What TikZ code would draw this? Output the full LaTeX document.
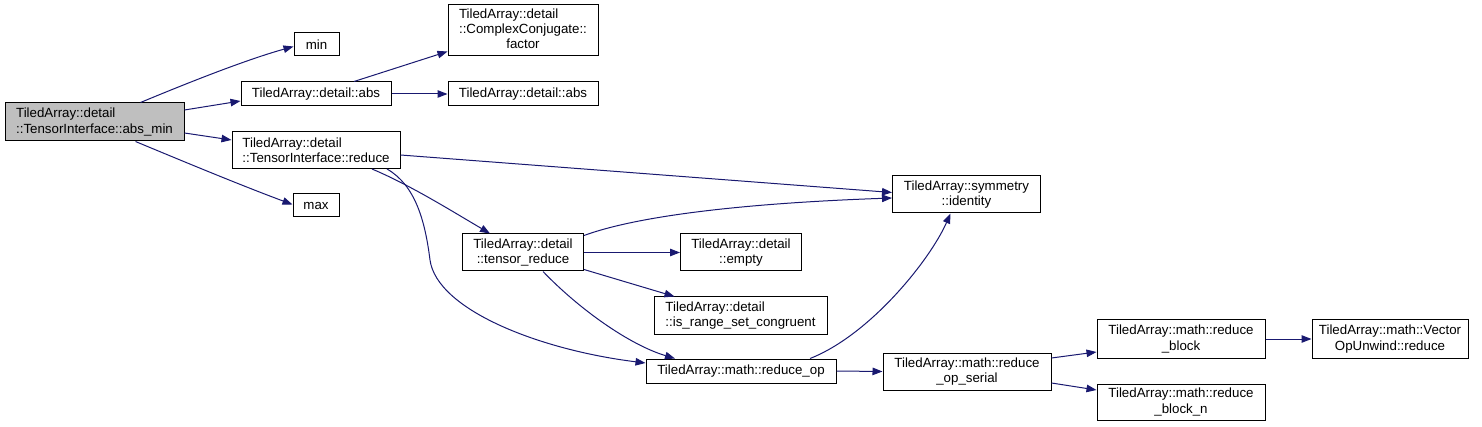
\documentclass[tikz,border=0pt]{standalone}
\usepackage{fontspec}
\setmainfont{Liberation Sans}
\usetikzlibrary{arrows.meta,calc}
\definecolor{edgeblue}{HTML}{191970}
\definecolor{graybox}{HTML}{BFBFBF}
\tikzset{
  box/.style={draw=black, line width=1pt, fill=white, inner sep=0pt, align=center,
    font=\fontsize{13.3}{15.2}\selectfont},
  edge/.style={draw=edgeblue, line width=1pt, -{Triangle[length=10pt,width=7.5pt]}, fill=none},
}
\begin{document}
\begin{tikzpicture}[x=1pt,y=-1pt]
\useasboundingbox (0,0) rectangle (1482,427);
\node[box, align=left, fill=graybox, minimum width=179pt, minimum height=38pt] (absmin) at (94.5,122) {TiledArray::detail\\::TensorInterface::abs\_min};
\node[box, minimum width=45pt, minimum height=23pt] (min) at (316.5,44.5) {min};
\node[box, minimum width=150pt, minimum height=24pt] (dabs) at (316,94) {TiledArray::detail::abs};
\node[box, minimum width=150pt, minimum height=51pt] (ccf) at (523,30.5) {\begin{tabular}{@{}l@{}}TiledArray::detail\\::ComplexConjugate::\\\multicolumn{1}{@{}c@{}}{factor}\end{tabular}};
\node[box, minimum width=150pt, minimum height=24pt] (dabs2) at (523,94) {TiledArray::detail::abs};
\node[box, align=left, minimum width=168pt, minimum height=37pt] (tired) at (316,150) {TiledArray::detail\\::TensorInterface::reduce};
\node[box, minimum width=46pt, minimum height=23pt] (max) at (316,205.5) {max};
\node[box, minimum width=148pt, minimum height=37pt] (symid) at (966.5,194.5) {TiledArray::symmetry\\::identity};
\node[box, minimum width=121pt, minimum height=37pt] (tensred) at (523,252.5) {TiledArray::detail\\::tensor\_reduce};
\node[box, minimum width=121pt, minimum height=37pt] (empty) at (741,252.5) {TiledArray::detail\\::empty};
\node[box, align=left, minimum width=173pt, minimum height=37pt] (isrange) at (740.5,315.5) {TiledArray::detail\\::is\_range\_set\_congruent};
\node[box, minimum width=190pt, minimum height=24pt] (redop) at (741,371) {TiledArray::math::reduce\_op};
\node[box, minimum width=168pt, minimum height=37pt] (redopser) at (967,371.5) {TiledArray::math::reduce\\\_op\_serial};
\node[box, minimum width=168pt, minimum height=38pt] (redblock) at (1181,339) {TiledArray::math::reduce\\\_block};
\node[box, minimum width=156pt, minimum height=38pt] (vec) at (1390,339) {TiledArray::math::Vector\\OpUnwind::reduce};
\node[box, minimum width=168pt, minimum height=36pt] (redblockn) at (1181,402) {TiledArray::math::reduce\\\_block\_n};

\draw[edge] ($(absmin.north)+(46,0)$) .. controls (185,84) and (245,60) .. ($(min.west)+(0,2)$);
\draw[edge] ($(absmin.east)+(0,-12)$) -- ($(dabs.west)+(0,7)$);
\draw[edge] ($(absmin.east)+(0,11)$) -- ($(tired.west)+(0,-10)$);
\draw[edge] ($(absmin.south)+(41,0)$) .. controls (180,160) and (240,185) .. ($(max.west)+(0,-1)$);
\draw[edge] ($(dabs.north)+(38,0)$) -- ($(ccf.south west)+(0,-5)$);
\draw[edge] (dabs.east) -- (dabs2.west);
\draw[edge] ($(tired.east)+(0,5)$) -- ($(symid.west)+(0,-2)$);
\draw[edge] ($(tired.south)+(56,0)$) .. controls (410,185) and (450,210) .. ($(tensred.north)+(-33,0)$);
\draw[edge] ($(tired.south)+(71,0)$) .. controls (415,185) and (425,220) .. (430,260)
   .. controls (437,310) and (540,350) .. ($(redop.west)+(0,-8)$);
\draw[edge] ($(tensred.north east)+(0,2)$) .. controls (640,215) and (750,203) .. ($(symid.west)+(0,3.5)$);
\draw[edge] (tensred.east) -- (empty.west);
\draw[edge] ($(tensred.south east)+(0,-2)$) -- ($(isrange.north west)+(21,0)$);
\draw[edge] ($(tensred.south)+(20,0)$) .. controls (580,310) and (630,345) .. ($(redop.north)+(-66,0)$);
\draw[edge] ($(redop.north)+(69,0)$) .. controls (870,335) and (930,260) .. ($(symid.south)+(-16,0)$);
\draw[edge] (redop.east) -- (redopser.west);
\draw[edge] ($(redopser.east)+(0,-13.5)$) -- ($(redblock.west)+(0,13)$);
\draw[edge] ($(redopser.east)+(0,11.5)$) -- ($(redblockn.west)+(0,-12)$);
\draw[edge] (redblock.east) -- (vec.west);
\end{tikzpicture}
\end{document}
